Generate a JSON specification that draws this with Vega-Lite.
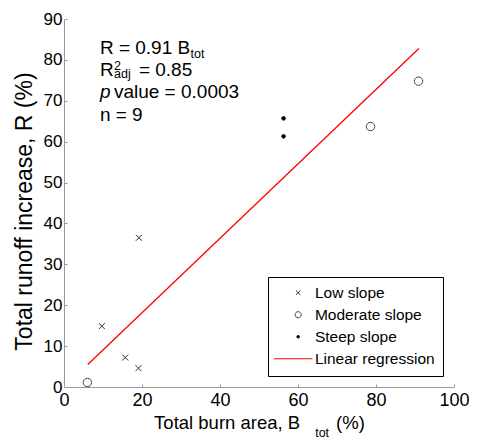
{
  "$schema": "https://vega.github.io/schema/vega-lite/v6.json",
  "autosize": {"type": "none"},
  "padding": {"left": 64, "top": 19, "right": 24, "bottom": 52},
  "width": 390,
  "height": 368,
  "background": "white",
  "config": {
    "view": {"stroke": null},
    "font": "Liberation Sans",
    "axis": {
      "grid": false,
      "domainColor": "#9a9a9a",
      "tickColor": "#9a9a9a",
      "tickSize": -3,
      "labelFlush": false,
      "labelColor": "black",
      "labelFont": "Liberation Sans",
      "titleFont": "Liberation Sans",
      "titleFontWeight": "normal",
      "titleColor": "black"
    },
    "legend": {
      "labelFont": "Liberation Sans",
      "labelFontSize": 15.5,
      "labelColor": "black",
      "symbolStrokeWidth": 1,
      "symbolSize": 19.4
    }
  },
  "datasets": {
    "pts": [
      {"B": 9.7, "R": 14.9, "type": "Low slope"},
      {"B": 15.7, "R": 7.2, "type": "Low slope"},
      {"B": 19.1, "R": 4.6, "type": "Low slope"},
      {"B": 19.2, "R": 36.5, "type": "Low slope"},
      {"B": 6.0, "R": 1.1, "type": "Moderate slope"},
      {"B": 78.6, "R": 63.7, "type": "Moderate slope"},
      {"B": 90.9, "R": 74.8, "type": "Moderate slope"},
      {"B": 56.3, "R": 65.7, "type": "Steep slope"},
      {"B": 56.3, "R": 61.3, "type": "Steep slope"}
    ],
    "fit": [
      {"B": 6.1, "R": 5.5},
      {"B": 91.0, "R": 82.8}
    ],
    "txt_main": [
      {"x": 9.2, "y": 81.4, "t": "R = 0.91 B"},
      {"x": 9.2, "y": 76.1, "t": "R"},
      {"x": 19.2, "y": 76.1, "t": "= 0.85"},
      {"x": 12.8, "y": 70.6, "t": "value = 0.0003"},
      {"x": 9.2, "y": 65.1, "t": "n = 9"}
    ],
    "txt_italic": [
      {"x": 9.2, "y": 70.6, "t": "p"}
    ],
    "txt_small": [
      {"x": 32.45, "y": 80.5, "t": "tot"},
      {"x": 12.85, "y": 77.5, "t": "2"},
      {"x": 12.85, "y": 75.5, "t": "adj"},
      {"x": 64.4, "y": -12.2, "t": "tot"}
    ]
  },
  "layer": [
    {
      "data": {"name": "fit"},
      "mark": {"type": "line", "color": "red", "strokeWidth": 1.3},
      "encoding": {
        "x": {"field": "B", "type": "quantitative", "scale": {"domain": [0, 100], "nice": false},
              "axis": {"values": [0, 20, 40, 60, 80, 100], "title": "Total burn area, B\u00a0\u00a0\u00a0\u00a0\u00a0\u00a0\u00a0(%)", "labelFontSize": 18, "titleFontSize": 18.5, "labelPadding": 7, "titlePadding": 4}},
        "y": {"field": "R", "type": "quantitative", "scale": {"domain": [0, 90], "nice": false},
              "axis": {"values": [0, 10, 20, 30, 40, 50, 60, 70, 80, 90], "title": "Total runoff increase, R (%)", "labelFontSize": 17, "labelPadding": 5, "titlePadding": 7, "titleFontSize": 23, "titleY": 192}}
      }
    },
    {
      "data": {"name": "pts"},
      "mark": {"type": "point", "strokeWidth": 1, "opacity": 1, "size": 36},
      "encoding": {
        "x": {"field": "B", "type": "quantitative"},
        "y": {"field": "R", "type": "quantitative"},
        "shape": {
          "field": "type", "type": "nominal",
          "scale": {
            "domain": ["Low slope", "Moderate slope", "Steep slope", "Linear regression"],
            "range": [
              "M-1,-1L1,1M-1,1L1,-1",
              "M-1.4,0A1.4,1.4,0,1,1,1.4,0A1.4,1.4,0,1,1,-1.4,0Z",
              "M-0.6,0A0.6,0.6,0,1,1,0.6,0A0.6,0.6,0,1,1,-0.6,0Z",
              "M-11,0L6.5,0"
            ]
          },
          "legend": {
            "title": null,
            "orient": "none",
            "legendX": 204,
            "legendY": 258,
            "strokeColor": "black",
            "fillColor": "white",
            "padding": 8,
            "rowPadding": 5,
            "symbolOffset": 14.4,
            "labelOffset": 9
          }
        },
        "fill": {
          "field": "type", "type": "nominal",
          "scale": {"domain": ["Low slope", "Moderate slope", "Steep slope", "Linear regression"], "range": ["transparent", "transparent", "black", "transparent"]}
        },
        "stroke": {
          "field": "type", "type": "nominal",
          "scale": {"domain": ["Low slope", "Moderate slope", "Steep slope", "Linear regression"], "range": ["#333333", "#444444", "black", "red"]}
        }
      }
    },
    {
      "data": {"name": "txt_main"},
      "mark": {"type": "text", "align": "left", "baseline": "alphabetic", "fontSize": 19, "color": "black"},
      "encoding": {
        "x": {"field": "x", "type": "quantitative"},
        "y": {"field": "y", "type": "quantitative"},
        "text": {"field": "t"}
      }
    },
    {
      "data": {"name": "txt_italic"},
      "mark": {"type": "text", "align": "left", "baseline": "alphabetic", "fontSize": 19, "fontStyle": "italic", "color": "black"},
      "encoding": {
        "x": {"field": "x", "type": "quantitative"},
        "y": {"field": "y", "type": "quantitative"},
        "text": {"field": "t"}
      }
    },
    {
      "data": {"name": "txt_small"},
      "mark": {"type": "text", "align": "left", "baseline": "alphabetic", "fontSize": 12.5, "color": "black"},
      "encoding": {
        "x": {"field": "x", "type": "quantitative"},
        "y": {"field": "y", "type": "quantitative"},
        "text": {"field": "t"}
      }
    }
  ]
}
